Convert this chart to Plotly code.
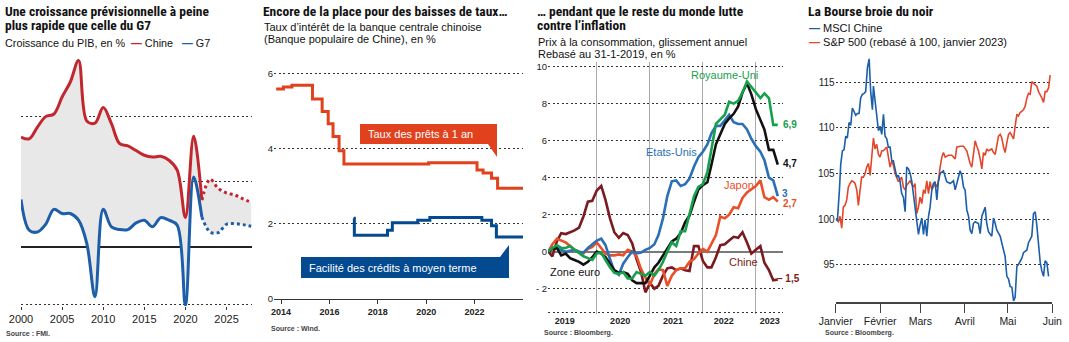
import plotly.graph_objects as go
import pandas as pd

W, H = 1069, 342
TFONT = "Liberation Sans Narrow, Roboto Condensed, Arial Narrow, sans-serif"
FONT = "Liberation Sans, Arial, Roboto, sans-serif"

# ---------------- Panel 1 : croissance du PIB ----------------
years = list(range(2000, 2029))
chine_pib = [8.44, 8.3, 9.2, 10.0, 10.2, 11.5, 12.65, 14.3, 9.67, 9.5, 10.7, 9.46, 7.93, 7.76,
             7.4, 7.04, 6.9, 6.96, 6.66, 5.9, 2.27, 8.5, 3.6, 5.2, 4.5, 4.15, 4.0, 3.7, 3.45]
g7_pib = [3.65, 1.3, 1.17, 1.76, 2.9, 2.58, 2.58, 2.07, 0.3, -3.8, 2.9, 1.56, 1.35, 1.35,
          1.86, 2.07, 1.56, 2.27, 2.07, 1.68, -4.44, 5.38, 2.32, 1.17, 1.12, 1.76, 1.8, 1.73, 1.6]
last_actual_year = 2022

# ---------------- Panel 2 : taux ----------------
pret_x = [2013.8, 2014.1, 2014.45, 2015.3, 2015.7, 2015.95, 2016.15, 2016.4, 2016.6, 2020.1,
          2022.1, 2022.35, 2022.7, 2022.95, 2024.0]
pret_y = [5.6, 5.65, 5.7, 5.33, 5.0, 4.67, 4.33, 3.95, 3.6, 3.63, 3.44, 3.36, 3.22, 2.95, 2.95]
mlf_x = [2017.0, 2017.03, 2018.4, 2018.6, 2019.65, 2020.15, 2022.3, 2022.7, 2022.9, 2024.0]
mlf_y = [2.15, 1.7, 1.83, 2.03, 2.1, 2.17, 2.1, 1.95, 1.65, 1.65]

# ---------------- Panel 3 : inflation ----------------
months = pd.date_range("2019-02-01", "2023-06-01", freq="MS")
ru = [0.0, 0.2, 0.35, 0.2, 0.2, 0.3, 0.1, -0.1, -0.25, -0.35, -0.45, -0.1, -0.05, -0.45, -0.85,
      -1.15, -1.2, -1.1, -1.45, -1.45, -1.1, -1.2, -1.3, -1.1, -1.3, -1.0, -0.55, 0.0, 0.5, 0.3,
      1.1, 1.1, 2.0, 3.0, 3.5, 3.65, 4.3, 5.5, 6.9, 7.15, 7.4, 8.1, 8.0, 8.15, 8.6, 9.2, 8.9,
      8.55, 8.3, 8.55, 8.3, 6.85, 6.85]
eu = [0.0, 0.2, 0.2, 0.1, 0.0, 0.05, 0.1, 0.0, -0.05, 0.2, 0.4, 0.6, 0.7, 0.35, -0.4, -1.05,
      -1.25, -0.65, -0.3, 0.0, -0.1, -0.05, 0.1, 0.2, 0.4, 0.9, 1.8, 3.0, 3.8, 3.85, 3.55, 3.65,
      3.95, 4.6, 5.1, 5.4, 5.8, 6.4, 6.8, 6.8, 7.1, 7.4, 7.0, 6.9, 6.9, 6.6, 6.1, 5.7, 5.4, 4.95,
      4.0, 3.85, 3.0]
ze = [0.0, 0.15, 0.2, -0.2, -0.1, -0.35, -0.45, -0.55, -0.7, -0.55, -0.3, 0.0, -0.1, -0.3,
      -0.65, -1.0, -1.15, -1.1, -1.2, -1.55, -1.7, -1.7, -1.7, -1.3, -0.85, -0.6, -0.2, 0.15,
      0.55, 0.7, 1.0, 1.6, 1.95, 2.7, 3.35, 3.6, 3.75, 4.7, 5.8, 6.35, 6.9, 7.2, 7.45, 7.85, 8.6,
      9.1, 8.5, 7.7, 7.1, 6.6, 5.5, 5.5, 4.7]
jp = [0.0, 0.4, 0.7, 0.6, 0.5, 0.3, 0.1, 0.0, -0.1, 0.15, 0.25, 0.5, 0.2, -0.1, -0.2, -0.2,
      -0.15, -0.2, 0.1, 0.0, -0.25, -0.95, -1.4, -1.8, -1.2, -0.95, -1.0, -1.85, -1.3, -1.0,
      -0.9, -0.9, -0.55, -0.4, -0.1, 0.15, 0.0, 0.4, 0.9, 1.9, 1.8, 2.0, 2.4, 2.35, 2.9, 3.2,
      3.35, 3.55, 3.85, 2.95, 2.8, 2.95, 2.7]
cn = [0.0, -0.25, 0.55, 1.0, 0.95, 1.05, 1.15, 1.3, 1.9, 2.7, 2.75, 3.3, 3.55, 2.8, 1.8, 1.05,
      0.75, 1.0, 0.9, 0.45, -0.4, -1.1, -2.2, -1.7, -2.0, -1.85, -1.3, -0.9, -0.85, -1.0, -0.9,
      -1.0, -1.05, 0.3, 0.3, -0.5, -0.85, -0.85, -0.3, 0.35, 0.4, 0.6, 0.8, 0.75, 1.05, 0.5,
      -0.1, 0.1, 0.3, -0.6, -1.0, -1.55, -1.5]

# ---------------- Panel 4 : bourse ----------------
msci_days = [0, 1.2, 2.6, 3.5, 4.7, 5.8, 7, 8.1, 9.3, 10.5, 11.6, 12.8, 14, 15.1, 16.3, 17.4,
             18.6, 19.8, 20.9, 22.1, 23.3, 24.4, 25.6, 26.3, 27.4, 28.6, 29.8, 30.9, 32.1, 33.3,
             34.4, 35.6, 36.7, 37.9, 39.1, 40.2, 41.4, 42.6, 43.7, 44.9, 46, 47.2, 48.4, 49.5,
             50.7, 51.9, 53, 54.2, 55.3, 56.5, 57.7, 58.8, 60, 61.2, 62.3, 63.5, 64.7, 65.8, 67,
             68.1, 69.3, 70.5, 71.6, 72.8, 75.1, 77.4, 79.8, 82.1, 83.3, 86.7, 87.9, 89.1, 90.2,
             91.4, 92.6, 93.7, 94.9, 96, 97.2, 99.5, 100.7, 101.9, 104.2, 105.3, 106.5, 108.8,
             110, 111.2, 112.3, 114.7, 115.8, 117, 118.1, 119.3, 120.5, 121.6, 122.8, 124, 125.1,
             126.3, 127.4, 128.6, 129.8, 130.9, 133.3, 134.4, 136.7, 137.9, 139.1, 140.2, 141.4,
             142.6, 143.7, 144.9, 146, 147.2, 148.4]
msci = [100.0, 99.9, 103.2, 106.0, 107.5, 107.6, 109.1, 108.9, 110.6, 110.3, 112.2, 111.7,
        111.4, 111.6, 111.6, 113.3, 113.7, 113.8, 114.0, 116.6, 117.6, 114.0, 112.0, 114.6,
        112.9, 111.1, 109.7, 110.2, 109.3, 111.5, 109.1, 108.8, 107.9, 107.9, 106.4, 106.4,
        105.3, 104.6, 104.8, 104.1, 102.8, 102.4, 100.8, 105.7, 105.5, 105.0, 104.2, 102.8,
        101.7, 100.3, 98.3, 99.3, 100.1, 98.3, 99.9, 98.1, 100.3, 101.3, 103.2, 103.9, 104.1,
        102.1, 104.1, 105.0, 105.3, 104.1, 103.9, 104.2, 103.2, 105.3, 104.8, 103.5, 103.2,
        101.0, 100.3, 98.8, 98.4, 99.5, 99.7, 99.5, 98.4, 100.3, 101.3, 99.5, 98.6, 98.1, 100.1,
        99.5, 98.8, 98.1, 97.5, 96.6, 95.9, 93.7, 93.4, 92.6, 92.5, 91.0, 91.4, 94.8, 95.0, 95.4,
        95.7, 96.3, 96.6, 97.4, 98.1, 100.6, 100.8, 99.3, 97.4, 95.2, 94.3, 93.7, 95.4, 95.2,
        93.7]
sp_days = [0, 1.9, 3, 4.2, 5.3, 6.5, 7.7, 8.8, 10, 11.2, 12.3, 13.5, 14.7, 15.8, 17, 18.1, 19.3,
           20.5, 21.6, 22.8, 24, 25.1, 26.3, 27.4, 28.6, 29.8, 30.9, 32.1, 33.3, 35.6, 36.7,
           37.9, 39.1, 40.2, 41.4, 42.6, 43.7, 46, 47.2, 48.4, 49.5, 51.9, 53, 54.2, 55.3, 56.5,
           57.7, 58.8, 60, 61.2, 62.3, 63.5, 64.7, 65.8, 67, 68.1, 69.3, 70.5, 71.6, 72.8, 74,
           75.1, 76.3, 78.6, 80.9, 83.3, 84.4, 86.7, 89.1, 91.4, 93.7, 94.9, 96, 97.2, 98.4, 99.5,
           100.7, 101.9, 103, 104.2, 105.3, 106.5, 108.8, 110, 111.2, 113.5, 114.7, 115.8, 117,
           118.1, 119.3, 120.5, 121.6, 124, 125.1, 126.3, 127.4, 128.6, 130.9, 132.1, 133.3,
           134.4, 135.6, 136.7, 137.9, 139.1, 140.2, 141.4, 142.6, 143.7, 144.9, 146, 147.2,
           148.4, 149.5]
sp500 = [100.0, 99.7, 100.3, 99.0, 101.3, 101.5, 102.1, 103.5, 103.9, 104.2, 104.1, 103.9, 103.2,
         101.5, 103.2, 104.6, 104.6, 105.0, 105.7, 106.1, 104.8, 106.8, 108.9, 107.7, 108.2,
         107.1, 106.8, 107.5, 107.5, 107.9, 106.8, 105.7, 106.4, 105.9, 105.0, 104.4, 104.1,
         104.6, 103.5, 103.2, 103.7, 104.2, 103.9, 103.5, 103.9, 100.6, 101.3, 102.4, 101.7,
         103.2, 102.8, 104.2, 102.8, 104.1, 103.2, 103.5, 103.9, 103.5, 104.2, 105.7, 106.8,
         107.3, 106.8, 107.0, 107.0, 106.6, 107.9, 108.0, 108.0, 107.5, 106.1, 105.7, 107.5,
         108.6, 108.0, 107.5, 106.6, 105.5, 107.3, 107.0, 107.7, 107.5, 107.7, 107.3, 107.1,
         109.1, 109.3, 108.9, 107.9, 107.3, 108.4, 109.3, 109.5, 108.8, 110.2, 111.5, 111.3,
         111.7, 112.0, 112.4, 113.3, 113.8, 113.7, 115.1, 114.9, 114.7, 114.6, 114.0, 113.7,
         113.3, 112.8, 114.0, 114.0, 114.4, 115.8]
month_names = ["Janvier", "Février", "Mars", "Avril", "Mai", "Juin"]

# ---------------- colours ----------------
C1_RED, C1_BLUE, FILL = "#c1272d", "#1d5ea8", "#e8e8e8"
C2_RED, C2_BLUE = "#e1411d", "#034a91"
C3 = {"ru": "#17a04c", "eu": "#2b70b6", "ze": "#111111", "jp": "#e9502a", "cn": "#7b1b20"}
C4_BLUE, C4_RED = "#1b5ea9", "#e2472b"
GRID = "#333333"
DOT = "2px,2.5px"


def fx(px):
    return px / W


def fy(py):
    return 1 - py / H


fig = go.Figure()

# ---- Panel 1 traces
i_act = years.index(last_actual_year)
fig.add_trace(go.Scatter(x=years, y=g7_pib, mode="lines", line=dict(width=0, shape="spline"),
                         xaxis="x", yaxis="y", showlegend=False, hoverinfo="skip"))
fig.add_trace(go.Scatter(x=years, y=chine_pib, mode="lines", line=dict(width=0, shape="spline"),
                         fill="tonexty", fillcolor=FILL, xaxis="x", yaxis="y", showlegend=False,
                         hoverinfo="skip"))
for vals, col in [(chine_pib, C1_RED), (g7_pib, C1_BLUE)]:
    fig.add_trace(go.Scatter(x=years[:i_act + 1], y=vals[:i_act + 1], mode="lines",
                             line=dict(color=col, width=3, shape="spline"),
                             xaxis="x", yaxis="y", showlegend=False))
    fig.add_trace(go.Scatter(x=years[i_act:], y=vals[i_act:], mode="lines",
                             line=dict(color=col, width=3, shape="spline", dash="dot"),
                             xaxis="x", yaxis="y", showlegend=False))

# ---- Panel 2 traces
fig.add_trace(go.Scatter(x=pret_x, y=pret_y, mode="lines", line=dict(color=C2_RED, width=3, shape="hv"),
                         xaxis="x2", yaxis="y2", showlegend=False))
fig.add_trace(go.Scatter(x=mlf_x, y=mlf_y, mode="lines", line=dict(color=C2_BLUE, width=3, shape="hv"),
                         xaxis="x2", yaxis="y2", showlegend=False))

# ---- Panel 3 traces
for key, vals in [("cn", cn), ("jp", jp), ("eu", eu), ("ze", ze), ("ru", ru)]:
    fig.add_trace(go.Scatter(x=months, y=vals, mode="lines", line=dict(color=C3[key], width=2.6),
                             xaxis="x3", yaxis="y3", showlegend=False))

# ---- Panel 4 traces
base = pd.Timestamp("2023-01-01")
fig.add_trace(go.Scatter(x=base + pd.to_timedelta(sp_days, unit="D"), y=sp500, mode="lines",
                         line=dict(color=C4_RED, width=1.6), xaxis="x4", yaxis="y4", showlegend=False))
fig.add_trace(go.Scatter(x=base + pd.to_timedelta(msci_days, unit="D"), y=msci, mode="lines",
                         line=dict(color=C4_BLUE, width=1.6), xaxis="x4", yaxis="y4", showlegend=False))


def tf(size, bold=False):
    return dict(family=FONT, size=size, color="#222", weight="bold" if bold else "normal")


layout = dict(
    width=W, height=H, margin=dict(l=0, r=0, t=0, b=0, autoexpand=False),
    paper_bgcolor="white", plot_bgcolor="white",
    font=dict(family=FONT, color="#222"),
    # panel 1
    xaxis=dict(domain=[fx(21), fx(252)], range=[2000, 2028.1], tickvals=[2000, 2005, 2010, 2015, 2020, 2025],
               showgrid=False, zeroline=False, ticks="outside", ticklen=3, tickcolor="#333",
               tickfont=tf(11), anchor="y", automargin=False),
    yaxis=dict(domain=[fy(306), fy(50)], range=[-4.5, 15.1], tickvals=[-4.4, 5, 10], showticklabels=False,
               gridcolor=GRID, griddash=DOT, gridwidth=1, zeroline=True, zerolinecolor="#222",
               zerolinewidth=1.5, anchor="x", automargin=False),
    # panel 2
    xaxis2=dict(domain=[fx(274), fx(523)], range=[2013.71, 2024.0], tickvals=[2014, 2016, 2018, 2020, 2022],
                showgrid=False, zeroline=False, showline=True, linecolor="#333", linewidth=1.2,
                ticks="outside", ticklen=4, tickcolor="#333", tickfont=tf(9, True), anchor="y2",
                automargin=False),
    yaxis2=dict(domain=[fy(299), fy(60)], range=[0, 6.37], tickvals=[0, 2, 4, 6],
                gridcolor=GRID, griddash=DOT, zeroline=False, tickfont=tf(9.5),
                ticks="", anchor="x2", automargin=False),
    # panel 3
    xaxis3=dict(domain=[fx(548), fx(783)], type="date", range=["2019-01-30", "2023-07-07"],
                tickvals=["2019-05-25", "2020-06-10", "2021-06-10", "2022-05-25", "2023-04-06"],
                ticktext=["2019", "2020", "2021", "2022", "2023"], showgrid=False, zeroline=False,
                ticks="", tickfont=tf(9, True), anchor="y3", automargin=False,
                minor=dict(tickmode="array", tickvals=["2020-01-01", "2021-01-01", "2022-01-01", "2023-01-01"],
                           showgrid=True, gridcolor="#aaaaaa", gridwidth=1.2)),
    yaxis3=dict(domain=[fy(314), fy(62)], range=[-3.37, 10.25], tickvals=[-3.3, -2, 0, 2, 4, 6, 8, 10],
                ticktext=["", "- 2", "0", "2", "4", "6", "8", "10"], gridcolor=GRID, griddash=DOT,
                zeroline=True, zerolinecolor="#7a7a7a", zerolinewidth=1.8,
                tickfont=tf(9.5), anchor="x3", automargin=False),
    # panel 4
    xaxis4=dict(domain=[fx(835.7), fx(1052.3)], type="date", range=["2023-01-01", "2023-06-01"],
                tickvals=[d.strftime("%Y-%m-%d") for d in pd.date_range("2023-01-01", periods=6, freq="MS")],
                ticktext=month_names, showgrid=False, zeroline=False, showline=True, linecolor="#444",
                linewidth=1.5, ticks="outside", ticklen=9, tickcolor="#444", tickwidth=1.2,
                tickfont=tf(10.5), anchor="y4", automargin=False),
    yaxis4=dict(domain=[fy(302), fy(50)], range=[90.88, 118.57], tickvals=[95, 100, 105, 110, 115],
                gridcolor=GRID, griddash=DOT, zeroline=False, tickfont=tf(10), anchor="x4",
                automargin=False),
)
fig.update_layout(**layout)

ann = []


def text(px, py, s, size=11, bold=False, color="#111", anchor="left", family=FONT):
    ann.append(dict(x=fx(px), y=fy(py), xref="paper", yref="paper", text=f"<b>{s}</b>" if bold else s,
                    showarrow=False, xanchor=anchor, yanchor="middle", borderpad=0,
                    font=dict(family=family, size=size, color=color)))


def title(px, py, s):
    text(px, py, s, 13.5, True, "#111", family=TFONT)


def dash(col):
    return f"<span style='color:{col}'><b>—</b></span>"


# titles
title(4, 11, "Une croissance prévisionnelle à peine")
title(4, 24.5, "plus rapide que celle du G7")
text(4, 43, f"Croissance du PIB, en %  {dash(C1_RED)} Chine   {dash(C1_BLUE)} G7", 10.8)
title(262, 11, "Encore de la place pour des baisses de taux…")
text(263, 27, "Taux d’intérêt de la banque centrale chinoise", 11)
text(263, 39.5, "(Banque populaire de Chine), en %", 11)
title(536, 11, "… pendant que le reste du monde lutte")
title(536, 24.5, "contre l’inflation")
text(537, 41.5, "Prix à la consommation, glissement annuel", 11)
text(537, 53.5, "Rebasé au 31-1-2019, en %", 11)
title(807, 11, "La Bourse broie du noir")
text(808, 28, f"{dash(C4_BLUE)} MSCI Chine", 11)
text(808, 42, f"{dash(C4_RED)} S&P 500 (rebasé à 100, janvier 2023)", 11)

# sources
text(5, 333, "Source : FMI.", 7, True, "#444")
text(270, 328, "Source : Wind.", 7, True, "#444")
text(543, 333, "Source : Bloomberg.", 7, True, "#444")
text(824, 333, "Source : Bloomberg.", 7, True, "#444")

# panel 3 labels
text(690, 75, "Royaume-Uni", 11, False, C3["ru"])
text(645, 152, "Etats-Unis", 11, False, C3["eu"])
text(723, 185, "Japon", 11, False, C3["jp"])
text(728, 262, "Chine", 11, False, C3["cn"])
text(549, 272, "Zone euro", 11, False, C3["ze"])
text(782, 124, "6,9", 10, True, C3["ru"])
text(782, 163, "4,7", 10, True, C3["ze"])
text(781, 193, "3", 10, True, C3["eu"])
text(782, 203, "2,7", 10, True, C3["jp"])
text(776, 278, "– 1,5", 10, True, C3["cn"])

# panel 2 box labels
text(367, 134, "Taux des prêts à 1 an", 11, False, "white")
text(308, 268, "Facilité des crédits à moyen terme", 11, False, "white")

fig.update_layout(annotations=ann)


# panel 2 label boxes (paper coords)
def path(points):
    return "M " + " L ".join(f"{fx(a):.5f},{fy(b):.5f}" for a, b in points) + " Z"


fig.update_layout(shapes=[
    dict(type="path", xref="paper", yref="paper", path=path([(360, 124), (497, 124), (497, 157), (488, 144), (360, 144)]),
         fillcolor=C2_RED, line=dict(width=0), layer="above"),
    dict(type="path", xref="paper", yref="paper", path=path([(301, 257), (500, 257), (509, 245), (509, 278), (301, 278)]),
         fillcolor=C2_BLUE, line=dict(width=0), layer="above"),
])

fig.write_html("out.html")
